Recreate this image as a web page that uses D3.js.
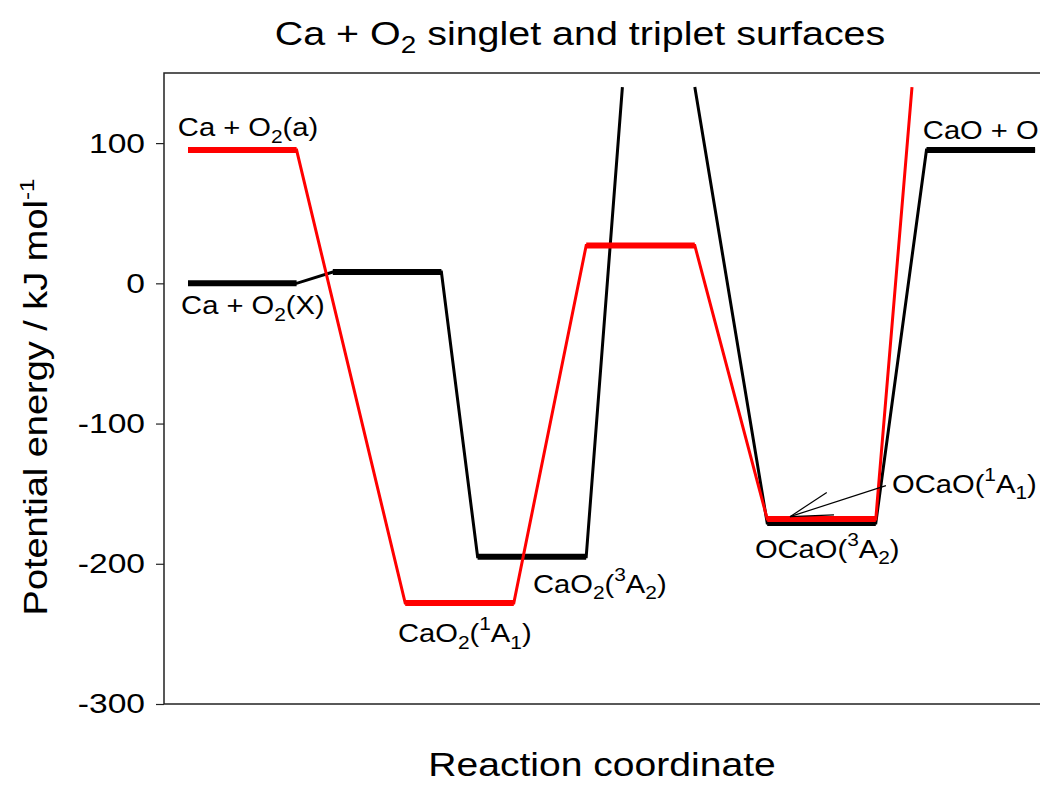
<!DOCTYPE html>
<html>
<head>
<meta charset="utf-8">
<script src="https://cdn.jsdelivr.net/npm/d3@7"></script>
<style>
  body { margin: 0; background: #fff; }
  svg { display: block; font-family: "Liberation Sans", Arial, sans-serif; }
</style>
</head>
<body>
<div id="chart"></div>
<script>
// singlet surface (red): path points [reaction coordinate, kJ/mol]
var singletPath = [[0, 95], [3, 95], [6, -228], [9, -228], [11, 27], [14, 27], [16, -168], [19, -168], [20, 140]];
var singletLevels = [[0, 3, 95], [6, 9, -228], [11, 14, 27], [16, 19, -168]];

// triplet surface (black), broken at the top of the plot
var tripletPathA = [[0, 0], [3, 0], [4, 8], [7, 8], [8, -195], [11, -195], [12, 140]];
var tripletPathB = [[14, 140], [16, -171], [19, -171], [20.4, 95], [23.4, 95]];
var tripletLevels = [[0, 3, 0], [4, 7, 8], [8, 11, -195], [16, 19, -171], [20.4, 23.4, 95]];

var yTicks = [100, 0, -100, -200, -300];

// species labels, pieces are [text, "", "sub" or "sup"]
var labels = [
  {x: -0.28, e: 105, parts: [["Ca + O", ""], ["2", "sub"], ["(a)", ""]]},
  {x: -0.19, e: -22, parts: [["Ca + O", ""], ["2", "sub"], ["(X)", ""]]},
  {x: 5.8, e: -255.7, parts: [["CaO", ""], ["2", "sub"], ["(", ""], ["1", "sup"], ["A", ""], ["1", "sub"], [")", ""]]},
  {x: 9.53, e: -220.7, parts: [["CaO", ""], ["2", "sub"], ["(", ""], ["3", "sup"], ["A", ""], ["2", "sub"], [")", ""]]},
  {x: 19.45, e: -149.3, parts: [["OCaO(", ""], ["1", "sup"], ["A", ""], ["1", "sub"], [")", ""]]},
  {x: 15.66, e: -195.7, parts: [["OCaO(", ""], ["3", "sup"], ["A", ""], ["2", "sub"], [")", ""]]},
  {x: 20.3, e: 102.9, parts: [["CaO + O", ""]]}
];

// pointer from OCaO(1A1) label down to the level
var pointer = {from: [19.28, -144.3], to: [16.63, -166.4]};

var width = 1040, height = 785;
var margin = {top: 73, left: 164, bottom: 81};

var x = d3.scaleLinear().domain([-0.663, 24.5]).range([margin.left, margin.left + 25.163 * 36.2]);
var y = d3.scaleLinear().domain([-300, 150]).range([height - margin.bottom, margin.top]);

var svg = d3.select("#chart").append("svg")
    .attr("width", width)
    .attr("height", height);

// text placed at (tx, ty), stretched a little horizontally like the original
function stretchedText(tx, ty, size, sx, rot) {
  return svg.append("text")
      .attr("transform", "translate(" + tx + "," + ty + ")" + (rot ? " rotate(" + rot + ")" : "") + " scale(" + sx + ",1)")
      .attr("font-size", size)
      .attr("fill", "#000");
}

// frame
svg.append("rect")
    .attr("x", x.range()[0])
    .attr("y", y(150))
    .attr("width", x.range()[1] - x.range()[0])
    .attr("height", y(-300) - y(150))
    .attr("fill", "none")
    .attr("stroke", "#222")
    .attr("stroke-width", 1.5);

// y axis
var tickStretch = 1.2;
var yAxis = svg.append("g")
    .attr("transform", "translate(" + margin.left + ",0)")
    .call(d3.axisLeft(y).tickValues(yTicks).tickSize(8).tickPadding(8)
        .tickFormat((d) => String(d)));
yAxis.select(".domain").remove();
yAxis.selectAll("line").attr("stroke", "#222").attr("stroke-width", 1.2);
yAxis.selectAll("text").attr("font-size", 28).attr("fill", "#000")
    .attr("font-family", "Liberation Sans, Arial, sans-serif")
    .attr("x", -19 / tickStretch)
    .attr("transform", "scale(" + tickStretch + ",1)");

var line = d3.line().x((d) => x(d[0])).y((d) => y(d[1]));

// triplet first, singlet on top
[tripletPathA, tripletPathB].forEach(function (p) {
  svg.append("path").attr("d", line(p))
      .attr("fill", "none").attr("stroke", "#000").attr("stroke-width", 3);
});
svg.selectAll(".tlevel").data(tripletLevels).enter().append("line")
    .attr("class", "tlevel")
    .attr("x1", (d) => x(d[0])).attr("x2", (d) => x(d[1]))
    .attr("y1", (d) => y(d[2])).attr("y2", (d) => y(d[2]))
    .attr("stroke", "#000").attr("stroke-width", 6);

svg.append("path").attr("d", line(singletPath))
    .attr("fill", "none").attr("stroke", "#f00").attr("stroke-width", 3);
svg.selectAll(".slevel").data(singletLevels).enter().append("line")
    .attr("class", "slevel")
    .attr("x1", (d) => x(d[0])).attr("x2", (d) => x(d[1]))
    .attr("y1", (d) => y(d[2])).attr("y2", (d) => y(d[2]))
    .attr("stroke", "#f00").attr("stroke-width", 6);

// pointer with open arrow head
var px0 = x(pointer.from[0]), py0 = y(pointer.from[1]);
var px1 = x(pointer.to[0]), py1 = y(pointer.to[1]);
svg.append("line").attr("x1", px0).attr("y1", py0).attr("x2", px1).attr("y2", py1)
    .attr("stroke", "#000").attr("stroke-width", 1.2);
var ang = Math.atan2(py0 - py1, px0 - px1);
[-0.27, 0.27].forEach(function (da) {
  svg.append("line").attr("x1", px1).attr("y1", py1)
      .attr("x2", px1 + 44 * Math.cos(ang + da)).attr("y2", py1 + 44 * Math.sin(ang + da))
      .attr("stroke", "#000").attr("stroke-width", 1.2);
});

// species labels
labels.forEach(function (l) {
  var t = stretchedText(x(l.x), y(l.e), 26.5, 1.1);
  l.parts.forEach(function (p) {
    var s = t.append("tspan").text(p[0]);
    if (p[1] === "sub") s.attr("font-size", 19).attr("baseline-shift", "-35%");
    if (p[1] === "sup") s.attr("font-size", 19).attr("baseline-shift", "60%");
  });
});

// title
var title = stretchedText(580, 45, 34, 1.16).attr("text-anchor", "middle");
title.append("tspan").text("Ca + O");
title.append("tspan").text("2").attr("font-size", 24).attr("baseline-shift", "-35%");
title.append("tspan").text(" singlet and triplet surfaces");

// axis titles
stretchedText(602, 776, 34, 1.15).attr("text-anchor", "middle")
    .text("Reaction coordinate");

var yt = stretchedText(47, 397, 33, 1.15, -90).attr("text-anchor", "middle");
yt.append("tspan").text("Potential energy / kJ mol");
yt.append("tspan").text("-1").attr("font-size", 21).attr("baseline-shift", "60%");
</script>
</body>
</html>
